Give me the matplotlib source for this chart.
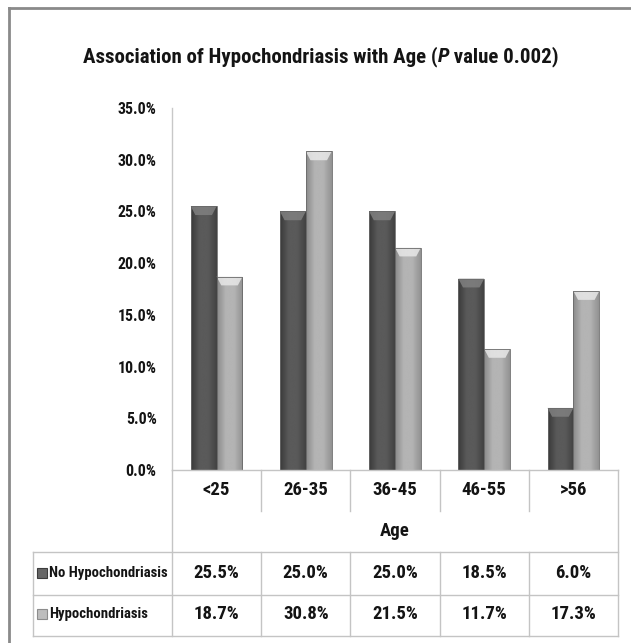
import matplotlib
matplotlib.use('Agg')
import matplotlib.pyplot as plt
import numpy as np
from matplotlib.patches import Rectangle, Polygon
from matplotlib.lines import Line2D
import matplotlib.transforms as mtransforms
from matplotlib import font_manager as fm

# ---------------- data ----------------
categories = ['<25', '26-35', '36-45', '46-55', '>56']
no_hypo = [25.5, 25.0, 25.0, 18.5, 6.0]
hypo = [18.7, 30.8, 21.5, 11.7, 17.3]
series_names = ['No Hypochondriasis', 'Hypochondriasis']
yticks = [0, 5, 10, 15, 20, 25, 30, 35]
xlabel = 'Age'
title_parts = ['Association of Hypochondriasis with Age (', 'P', ' value 0.002)']

# ---------------- font choice (condensed if available) ----------------
ents = fm.fontManager.ttflist
FAM, STRETCH = 'DejaVu Sans', 'normal'
found = False
for pref in ['Liberation Sans Narrow', 'Arial Narrow', 'Roboto Condensed',
             'Open Sans Condensed', 'DejaVu Sans Condensed', 'Noto Sans Condensed']:
    if any(e.name == pref for e in ents):
        FAM, STRETCH, found = pref, 'normal', True
        break
if not found:
    for fam in ['Open Sans', 'Roboto', 'Noto Sans', 'DejaVu Sans', 'Liberation Sans']:
        ok = [e for e in ents if e.name == fam and str(e.stretch) in ('condensed', 'semi-condensed', '75', '87', '87.5')]
        if ok:
            FAM, STRETCH, found = fam, ok[0].stretch, True
            break
plt.rcParams['font.family'] = [FAM, 'DejaVu Sans']
plt.rcParams['font.stretch'] = STRETCH
WEIGHT = 'bold'
plt.rcParams['font.weight'] = WEIGHT

W, H = 631, 643
fig = plt.figure(figsize=(W / 100, H / 100), dpi=100)
fig.patch.set_facecolor('white')
fig.canvas.draw()
renderer = fig.canvas.get_renderer()


def fx(px):
    return px / W


def fy(py):
    return 1 - py / H


def fit_size(sample, target_px, style='normal'):
    t = fig.text(0, 0, sample, fontsize=20, fontweight=WEIGHT, fontstyle=style)
    w = t.get_window_extent(renderer).width
    t.remove()
    return 20 * target_px / w


TXT = '#141414'
fs_tick = fit_size('35.0%', 39)
fs_val = fit_size('25.5%', 46)
fs_row = fit_size('No Hypochondriasis', 119)
fs_title = fit_size(''.join(title_parts), 476)

L, R, T, B = 172, 618, 108, 470
ax = fig.add_axes([fx(L), fy(B), (R - L) / W, (B - T) / H])
for s in ['top', 'right', 'bottom']:
    ax.spines[s].set_visible(False)
ax.spines['left'].set_color('#c8c8c8')
ax.spines['left'].set_linewidth(1.0)
ax.set_xticks([])
ax.set_yticks(yticks)
ax.set_yticklabels([f'{v:.1f}%' for v in yticks], fontsize=fs_tick, color=TXT, fontweight=WEIGHT)
ax.tick_params(axis='y', length=0, pad=11)

x = np.arange(len(categories))
bw = 0.29
series = [no_hypo, hypo]
base_cols = [('#3a3a3a', '#5a5a5a', '#424242'), ('#8a8a8a', '#b4b4b4', '#929292')]
bevel_cols = ['#808080', '#e8e8e8']

for si, vals in enumerate(series):
    offs = (-0.5 + si) * bw
    bars = ax.bar(x + offs, vals, width=bw, color='none', edgecolor='#6a6a6a',
                  linewidth=0.6, zorder=3)
    c0, c1, c2 = base_cols[si]
    cmap = matplotlib.colors.LinearSegmentedColormap.from_list('g', [c0, c1, c1, c2])
    grad = np.linspace(0, 1, 64).reshape(1, -1)
    for b in bars:
        bx, bwid, bh = b.get_x(), b.get_width(), b.get_height()
        im = ax.imshow(grad, cmap=cmap, aspect='auto',
                       extent=(bx, bx + bwid, 0, bh), zorder=2, interpolation='bicubic')
        im.set_clip_path(b)
        dy = 0.85
        dx = bwid * 0.18
        poly = Polygon([(bx, bh), (bx + bwid, bh), (bx + bwid - dx, bh - dy), (bx + dx, bh - dy)],
                       closed=True, facecolor=bevel_cols[si], edgecolor='none', zorder=2.5, alpha=0.85)
        ax.add_patch(poly)
ax.set_xlim(-0.5, len(categories) - 0.5)
ax.set_ylim(0, 35)

# ---------------- title (with italic P) ----------------
styles = ['normal', 'italic', 'normal']
tobjs = []
widths = []
for part, st in zip(title_parts, styles):
    t = fig.text(0, fy(57), part, fontsize=fs_title, fontstyle=st, fontweight=WEIGHT,
                 ha='left', va='center', color=TXT)
    tobjs.append(t)
    widths.append(t.get_window_extent(renderer).width)
x0 = 321 - sum(widths) / 2
for t, w in zip(tobjs, widths):
    t.set_x(fx(x0))
    x0 += w

# ---------------- outer frame ----------------
fig.add_artist(Line2D([fx(9), fx(640)], [fy(8), fy(8)], color='#8a8a8a', lw=2.0))
fig.add_artist(Line2D([fx(9), fx(9)], [fy(8), fy(650)], color='#8a8a8a', lw=2.0))

# ---------------- data table ----------------
bt = mtransforms.blended_transform_factory(ax.transData, fig.transFigure)
gc = '#c4c4c4'
glw = 1.0
y_cat_bot = 511
y_age_bot = 552
y_r1_bot = 595
y_r2_bot = 636
tab_left = 33

fig.add_artist(Line2D([fx(L), fx(R)], [fy(B), fy(B)], color=gc, lw=glw))
for yy in [y_age_bot, y_r1_bot, y_r2_bot]:
    fig.add_artist(Line2D([fx(tab_left), fx(R)], [fy(yy), fy(yy)], color=gc, lw=glw))
fig.add_artist(Line2D([fx(L), fx(L)], [fy(B), fy(y_r2_bot)], color=gc, lw=glw))
fig.add_artist(Line2D([fx(R), fx(R)], [fy(B), fy(y_r2_bot)], color=gc, lw=glw))
fig.add_artist(Line2D([fx(tab_left), fx(tab_left)], [fy(y_age_bot), fy(y_r2_bot)], color=gc, lw=glw))
for i in range(len(categories) - 1):
    fig.add_artist(Line2D([i + 0.5, i + 0.5], [fy(B), fy(y_cat_bot)], color=gc, lw=glw,
                          transform=bt))
    fig.add_artist(Line2D([i + 0.5, i + 0.5], [fy(y_age_bot), fy(y_r2_bot)], color=gc, lw=glw,
                          transform=bt))

for i, c in enumerate(categories):
    fig.text(i, fy(490), c, transform=bt, ha='center', va='center', fontsize=fs_val,
             fontweight=WEIGHT, color=TXT)
fig.text(2, fy(531), xlabel, transform=bt, ha='center', va='center', fontsize=fs_val,
         fontweight=WEIGHT, color=TXT)

row_y = [573, 614]
sq_cols = [('#3c3c3c', '#666666'), ('#8c8c8c', '#bdbdbd')]
for si, (name, vals) in enumerate(zip(series_names, series)):
    ry = row_y[si]
    for i, v in enumerate(vals):
        fig.text(i, fy(ry), f'{v:.1f}%', transform=bt, ha='center', va='center',
                 fontsize=fs_val, fontweight=WEIGHT, color=TXT)
    fig.text(fx(49), fy(ry), name, ha='left', va='center', fontsize=fs_row,
             fontweight=WEIGHT, color=TXT)
    sq = Rectangle((fx(37), fy(ry + 5)), 10 / W, 10 / H, transform=fig.transFigure,
                   facecolor=sq_cols[si][1], edgecolor=sq_cols[si][0], lw=0.8)
    fig.add_artist(sq)

fig.savefig('out.png', dpi=100, facecolor='white')
